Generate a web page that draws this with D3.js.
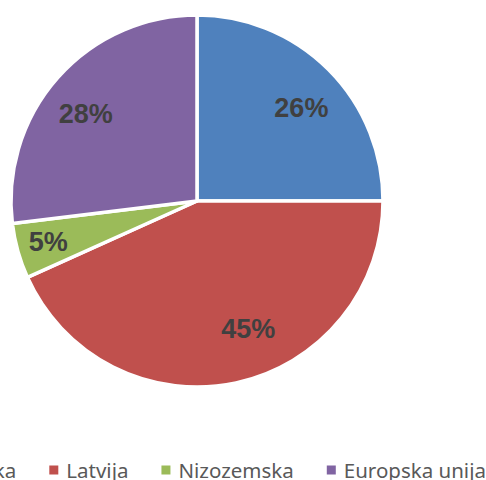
<!DOCTYPE html>
<html><head><meta charset="utf-8">
<script src="https://cdn.jsdelivr.net/npm/d3@7"></script>
<style>html,body{margin:0;padding:0;background:#fff;overflow:hidden}</style>
</head><body>
<svg id="chart" width="486" height="480"></svg>
<script>
const categories = ["Hrvatska", "Latvija", "Nizozemska", "Europska unija"];
const values = [26, 45, 5, 28];
const colors = ["#4F81BD", "#C0504D", "#9BBB59", "#8064A2"];

const svg = d3.select("#chart");
const cx = 197, cy = 201, R = 186;
const g = svg.append("g").attr("transform", `translate(${cx},${cy})`);

const data = categories.map((c, i) => ({cat: c, value: values[i], color: colors[i]}));
const pie = d3.pie().value(d => d.value).sort(null);
const arcs = pie(data);
const arc = d3.arc().innerRadius(0).outerRadius(R);

g.selectAll("path").data(arcs).join("path")
  .attr("d", arc)
  .attr("fill", d => d.data.color)
  .attr("stroke", "#fff")
  .attr("stroke-width", 3.5)
  .attr("stroke-linejoin", "round");

// label placement (angle tweak in radians, radius factor) similar to Excel best-fit
const labelAdj = [[0.06, 0.75], [-0.17, 0.74], [0, 0.83], [-0.06, 0.76]];
g.selectAll("text.lbl").data(arcs).join("text")
  .attr("class", "lbl")
  .each(function(d, i) {
    const a = (d.startAngle + d.endAngle) / 2 + labelAdj[i][0];
    const r = R * labelAdj[i][1];
    d3.select(this).attr("x", Math.sin(a) * r).attr("y", -Math.cos(a) * r);
  })
  .attr("text-anchor", "middle")
  .attr("dominant-baseline", "central")
  .attr("font-family", "Liberation Sans, Arial, sans-serif")
  .attr("font-weight", "bold")
  .attr("font-size", 27)
  .attr("fill", "#404040")
  .text(d => d.data.value + "%");

// legend
const legend = svg.append("g");
const items = legend.selectAll("g").data(data).join("g");
items.append("rect").attr("width", 9).attr("height", 9).attr("y", -4.5).attr("fill", d => d.color);
items.append("text").attr("x", 17).attr("y", 0)
  .attr("dominant-baseline", "central")
  .attr("font-family", "Noto Sans, sans-serif")
  .attr("font-size", 20.5)
  .attr("fill", "#595959")
  .text(d => d.cat);
let xoff = 0;
items.each(function() {
  const t = d3.select(this).select("text").node().getComputedTextLength();
  d3.select(this).attr("transform", `translate(${xoff},0)`);
  xoff += 17 + t + 33;
});
const total = xoff - 33;
legend.attr("transform", `translate(${cx + 3 - total / 2},470)`);
</script>
</body></html>
